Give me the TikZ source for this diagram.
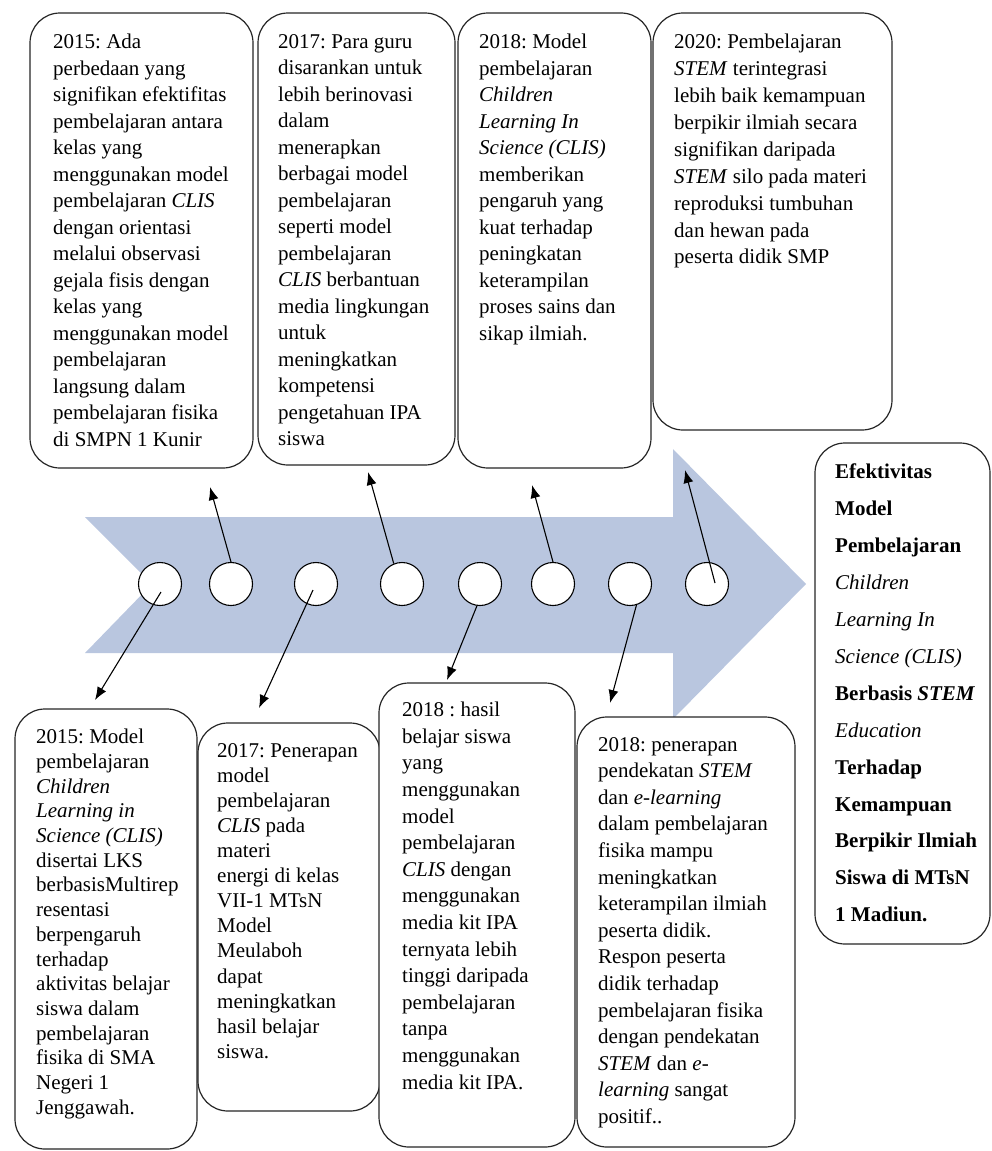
\documentclass[tikz,border=0pt]{standalone}
\usepackage{fontspec}
\setmainfont{Liberation Serif}
\usepackage{xcolor}
\usetikzlibrary{arrows.meta,calc}
\definecolor{birumuda}{RGB}{185,198,223}
\frenchspacing

\begin{document}
\begin{tikzpicture}[x=1pt,y=-1pt,
		kotak/.style={draw=black!85,line width=1.2pt,rounded corners=30pt,fill=white,anchor=north west,inner sep=0pt,outer sep=0pt},
		teks/.style={anchor=north west,align=left,inner sep=0pt,font=\fontsize{21}{26.5}\selectfont},
		titik/.style={circle,draw,line width=1.1pt,fill=white,minimum size=43pt,inner sep=0pt},
		panah/.style={line width=1.1pt,-{Latex[length=13pt,width=10pt]}}]
				\useasboundingbox (0,0) rectangle (992,1151);
				
				%Arrow
				\fill[birumuda] (85,517) -- (673,517) -- (673,449) -- (806,584) -- (673,719) -- (673,653) -- (85,653) -- (152,584) -- cycle;
				
				%Top boxes
				\node[kotak,minimum width=223pt,minimum height=455pt] (k1) at (30,13) {};
				\node[kotak,minimum width=197pt,minimum height=452pt] (k2) at (258,13) {};
				\node[kotak,minimum width=193pt,minimum height=455pt] (k3) at (458,13) {};
				\node[kotak,minimum width=239pt,minimum height=417pt] (k4) at (653,13) {};
				
				%Bottom boxes
				\node[kotak,minimum width=182pt,minimum height=440pt] (b1) at (15,709) {};
				\node[kotak,minimum width=182pt,minimum height=388pt] (b2) at (198,723) {};
				\node[kotak,minimum width=196pt,minimum height=464pt] (b3) at (379,683) {};
				\node[kotak,minimum width=218pt,minimum height=430pt] (b4) at (577,717) {};
				
				%Result
				\node[kotak,minimum width=175pt,minimum height=501pt] (hasil) at (815,443) {};
				
				%Points
				\node[titik] (c1) at (160,584) {};
				\node[titik] (c2) at (231,584) {};
				\node[titik] (c3) at (316,584) {};
				\node[titik] (c4) at (402,584) {};
				\node[titik] (c5) at (480,584) {};
				\node[titik] (c6) at (553,584) {};
				\node[titik] (c7) at (630,584) {};
				\node[titik] (c8) at (707,584) {};
				
				%Lines
				\coordinate (u1) at (95,700);
				\coordinate (u2) at (210,487);
				\coordinate (u3) at (259,708);
				\coordinate (u4) at (368,472);
				\coordinate (u5) at (447,680);
				\coordinate (u6) at (532,485);
				\coordinate (u7) at (610,703);
				\coordinate (u8) at (685,470);
				\draw[panah] ($(c1.center)+(1,8)$) -- (u1);
				\draw[panah] (c2.north) -- (u2);
				\draw[panah] ($(c3.center)+(-3,6)$) -- (u3);
				\draw[panah] (c4.112) -- (u4);
				\draw[panah] (c5.262) -- (u5);
				\draw[panah] (c6.north) -- (u6);
				\draw[panah] (c7.287) -- (u7);
				\draw[panah] ($(c8.center)+(8,-1)$) -- (u8);
				
				%Texts top
				\node[teks] (t1) at (53,34) {2015: Ada\\perbedaan yang\\signifikan efektifitas\\pembelajaran antara\\kelas yang\\menggunakan model\\pembelajaran \textit{CLIS}\\dengan orientasi\\melalui observasi\\gejala fisis dengan\\kelas yang\\menggunakan model\\pembelajaran\\langsung dalam\\pembelajaran fisika\\di SMPN 1 Kunir};
				\node[teks] (t2) at (278,34) {2017: Para guru\\disarankan untuk\\lebih berinovasi\\dalam\\menerapkan\\berbagai model\\pembelajaran\\seperti model\\pembelajaran\\\textit{CLIS} berbantuan\\media lingkungan\\untuk\\meningkatkan\\kompetensi\\pengetahuan IPA\\siswa};
				\node[teks] (t3) at (479,34) {2018: Model\\pembelajaran\\\textit{Children}\\\textit{Learning In}\\\textit{Science (CLIS)}\\memberikan\\pengaruh yang\\kuat terhadap\\peningkatan\\keterampilan\\proses sains dan\\sikap ilmiah.};
				\node[teks,font=\fontsize{21}{26.9}\selectfont] (t4) at (674,34) {2020: Pembelajaran\\\textit{STEM} terintegrasi\\lebih baik kemampuan\\berpikir ilmiah secara\\signifikan daripada\\\textit{STEM} silo pada materi\\reproduksi tumbuhan\\dan hewan pada\\peserta didik SMP};
				
				%Texts bottom
				\node[teks,font=\fontsize{21}{24.7}\selectfont] (s1) at (36,729) {2015: Model\\pembelajaran\\\textit{Children}\\\textit{Learning in}\\\textit{Science (CLIS)}\\disertai LKS\\berbasisMultirep\\resentasi\\berpengaruh\\terhadap\\aktivitas belajar\\siswa dalam\\pembelajaran\\fisika di SMA\\Negeri 1\\Jenggawah.};
				\node[teks,font=\fontsize{21}{25.1}\selectfont] (s2) at (217,743) {2017: Penerapan\\model\\pembelajaran\\\textit{CLIS} pada\\materi\\energi di kelas\\VII-1 MTsN\\Model\\Meulaboh\\dapat\\meningkatkan\\hasil belajar\\siswa.};
				\node[teks,font=\fontsize{21}{26.6}\selectfont] (s3) at (402,702) {2018 : hasil\\belajar siswa\\yang\\menggunakan\\model\\pembelajaran\\\textit{CLIS} dengan\\menggunakan\\media kit IPA\\ternyata lebih\\tinggi daripada\\pembelajaran\\tanpa\\menggunakan\\media kit IPA.};
				\node[teks,font=\fontsize{21}{26.6}\selectfont] (s4) at (598,737) {2018: penerapan\\pendekatan \textit{STEM}\\dan \textit{e-learning}\\dalam pembelajaran\\fisika mampu\\meningkatkan\\keterampilan ilmiah\\peserta didik.\\Respon peserta\\didik terhadap\\pembelajaran fisika\\dengan pendekatan\\\textit{STEM} dan \textit{e-}\\\textit{learning} sangat\\positif..};
				
				%Title
				\node[teks,font=\fontsize{21}{36.9}\selectfont\bfseries] (judul) at (835,464) {Efektivitas\\Model\\Pembelajaran\\{\mdseries\itshape Children}\\{\mdseries\itshape Learning In}\\{\mdseries\itshape Science (CLIS)}\\Berbasis \textit{STEM}\\{\mdseries\itshape Education}\\Terhadap\\Kemampuan\\Berpikir Ilmiah\\Siswa di MTsN\\1 Madiun.};
			\end{tikzpicture}
\end{document}
